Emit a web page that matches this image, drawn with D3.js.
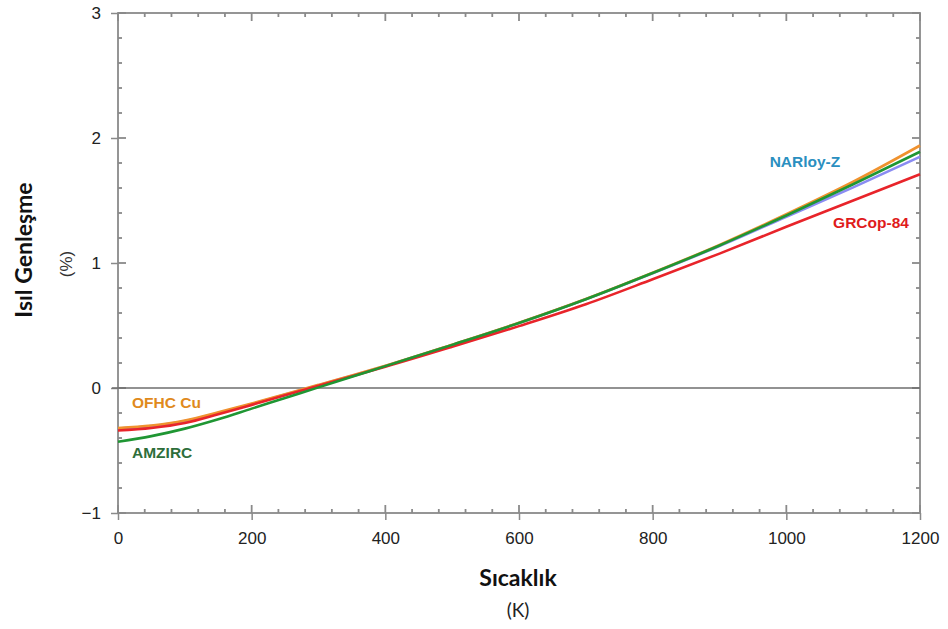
<!DOCTYPE html>
<html>
<head>
<meta charset="utf-8">
<script src="https://cdn.jsdelivr.net/npm/d3@7"></script>
<style>
  body { margin: 0; background: #fff; }
  svg { display: block; }
</style>
</head>
<body>
<div id="chart"></div>
<script>
// temperature (K) at which the curves were read
const temps = [0, 50, 100, 150, 200, 250, 300, 350, 400, 500, 600, 700, 800, 900, 1000, 1100, 1200]

// thermal expansion (%) of each alloy
const ofhcCu = [-0.32, -0.30, -0.26, -0.195, -0.125, -0.05, 0.025, 0.10, 0.178, 0.347, 0.522, 0.712, 0.922, 1.145, 1.39, 1.65, 1.94]
const narloyZ = [-0.325, -0.305, -0.265, -0.2, -0.128, -0.053, 0.022, 0.098, 0.176, 0.345, 0.52, 0.71, 0.918, 1.135, 1.37, 1.605, 1.85]
const grcop84 = [-0.34, -0.32, -0.28, -0.21, -0.135, -0.058, 0.018, 0.094, 0.17, 0.33, 0.495, 0.67, 0.87, 1.075, 1.29, 1.50, 1.71]
const amzirc = [-0.43, -0.385, -0.325, -0.25, -0.165, -0.08, 0.005, 0.09, 0.175, 0.345, 0.52, 0.71, 0.92, 1.14, 1.38, 1.63, 1.89]

const xTicks = [0, 200, 400, 600, 800, 1000, 1200]
const yTicks = [-1, 0, 1, 2, 3]

const width = 948
const height = 629
const margin = { top: 13, right: 28, bottom: 116, left: 118 }
const axisColor = '#8a8a8a'

// drawn in this order: blue first so it stays under the orange at low T
const series = [
  { name: 'NARloy-Z', values: narloyZ, color: '#8a8cf2' },
  { name: 'OFHC Cu', values: ofhcCu, color: '#f0922e' },
  { name: 'GRCop-84', values: grcop84, color: '#e8242a' },
  { name: 'AMZIRC', values: amzirc, color: '#1f9633' }
]

const x = d3.scaleLinear().domain([0, 1200]).range([margin.left, width - margin.right])
const y = d3.scaleLinear().domain([-1, 3]).range([height - margin.bottom, margin.top])

const svg = d3.select('#chart').append('svg')
  .attr('width', width)
  .attr('height', height)
  .style('font-family', '"Liberation Sans", Arial, sans-serif')

// minor ticks every 40 K and every 0.2 %
const xMinor = d3.range(0, 1201, 40)
const yMinor = d3.range(-1, 3.001, 0.2).map(v => Math.round(v * 10) / 10)
const isMajorX = v => v % 200 === 0
const isMajorY = v => Math.abs(v - Math.round(v)) < 1e-6

// bottom axis, labels and outer part of major ticks
svg.append('g')
  .attr('transform', `translate(0,${y(-1)})`)
  .call(d3.axisBottom(x).tickValues(xTicks).tickSize(7).tickPadding(12).tickFormat(d3.format('d')))
  .call(g => g.select('.domain').remove())
  .call(g => g.selectAll('line').attr('stroke', axisColor).attr('stroke-width', 1.5))
  .call(g => g.selectAll('text').attr('fill', '#222').style('font-size', '17px'))

// left axis
svg.append('g')
  .attr('transform', `translate(${x(0)},0)`)
  .call(d3.axisLeft(y).tickValues(yTicks).tickSize(7).tickPadding(10).tickFormat(d3.format('d')))
  .call(g => g.select('.domain').remove())
  .call(g => g.selectAll('line').attr('stroke', axisColor).attr('stroke-width', 1.5))
  .call(g => g.selectAll('text').attr('fill', '#222').style('font-size', '17px'))

// frame
const frame = svg.append('g').attr('stroke', axisColor).attr('stroke-width', 1.8).attr('fill', 'none')
frame.append('rect')
  .attr('x', x(0)).attr('y', y(3))
  .attr('width', x(1200) - x(0)).attr('height', y(-1) - y(3))

// inner ticks on all four sides
const tickLen = v => v ? 8 : 4
frame.selectAll('.tb').data(xMinor).join('line')
  .attr('x1', d => x(d)).attr('x2', d => x(d))
  .attr('y1', y(-1)).attr('y2', d => y(-1) - tickLen(isMajorX(d)))
frame.selectAll('.tt').data(xMinor).join('line')
  .attr('x1', d => x(d)).attr('x2', d => x(d))
  .attr('y1', y(3)).attr('y2', d => y(3) + tickLen(isMajorX(d)))
frame.selectAll('.tl').data(yMinor).join('line')
  .attr('y1', d => y(d)).attr('y2', d => y(d))
  .attr('x1', x(0)).attr('x2', d => x(0) + tickLen(isMajorY(d)))
frame.selectAll('.tr').data(yMinor).join('line')
  .attr('y1', d => y(d)).attr('y2', d => y(d))
  .attr('x1', x(1200)).attr('x2', d => x(1200) - tickLen(isMajorY(d)))

// zero line
svg.append('line')
  .attr('x1', x(0) - 6).attr('x2', x(1200))
  .attr('y1', y(0)).attr('y2', y(0))
  .attr('stroke', '#6e6e6e').attr('stroke-width', 1.6)

// curves
const line = d3.line()
  .x((d, i) => x(temps[i]))
  .y(d => y(d))
  .curve(d3.curveMonotoneX)

svg.append('g').selectAll('path').data(series).join('path')
  .attr('d', d => line(d.values))
  .attr('fill', 'none')
  .attr('stroke', d => d.color)
  .attr('stroke-width', 2.6)

// curve labels
const labels = [
  { text: 'OFHC Cu', x: 0, y: -0.16, color: '#e08a1c' },
  { text: 'AMZIRC', x: 0, y: -0.56, color: '#2e6e3a' },
  { text: 'NARloy-Z', x: 975, y: 1.77, color: '#2a8fc0' },
  { text: 'GRCop-84', x: 1070, y: 1.28, color: '#e01b1b' }
]
svg.append('g').selectAll('text').data(labels).join('text')
  .attr('x', d => x(d.x) + (d.x === 0 ? 14 : 0))
  .attr('y', d => y(d.y))
  .attr('fill', d => d.color)
  .style('font-size', '15.5px')
  .style('font-weight', 'bold')
  .text(d => d.text)

// axis titles
svg.append('text')
  .attr('x', 518).attr('y', 586)
  .attr('text-anchor', 'middle')
  .style('font-family', 'Lato, sans-serif')
  .style('font-weight', 'bold')
  .style('font-size', '23px')
  .attr('fill', '#111')
  .text('Sıcaklık')

svg.append('text')
  .attr('x', 518).attr('y', 617)
  .attr('text-anchor', 'middle')
  .style('font-family', 'Lato, sans-serif')
  .style('font-size', '19px')
  .attr('fill', '#222')
  .text('(K)')

svg.append('text')
  .attr('transform', 'translate(32,250) rotate(-90)')
  .attr('text-anchor', 'middle')
  .style('font-family', 'Lato, sans-serif')
  .style('font-weight', 'bold')
  .style('font-size', '23px')
  .attr('fill', '#111')
  .text('Isıl Genleşme')

svg.append('text')
  .attr('transform', 'translate(72,264) rotate(-90)')
  .attr('text-anchor', 'middle')
  .style('font-size', '17px')
  .attr('fill', '#333')
  .text('(%)')
</script>
</body>
</html>
